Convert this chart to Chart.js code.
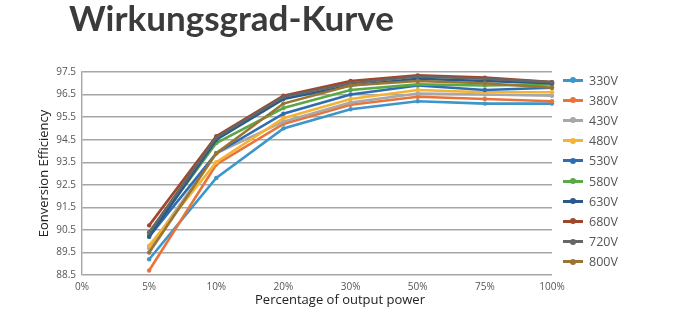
<!DOCTYPE html>
<html>
<head>
<meta charset="utf-8">
<script src="https://cdn.jsdelivr.net/npm/chart.js@4"></script>
<style>
    html, body { margin: 0; padding: 0; background: #fff; }
    #wrap { position: relative; width: 680px; height: 328px; overflow: hidden; }
    #title {
        position: absolute; left: 69px; top: -4px;
        font: 700 35px 'Lato', sans-serif; color: #3b3b3b;
    }
    #xTitle {
        position: absolute; left: 0; width: 680px; top: 290px; text-align: center;
        font: 13px 'Open Sans', sans-serif; color: #222;
    }
    #legend { position: absolute; left: 563px; top: 70px; }
    .item { height: 20.2px; display: flex; align-items: center; font: 12.5px 'Open Sans', sans-serif; color: #555; }
    .swatch { position: relative; width: 20px; height: 3px; margin-right: 6px; }
    .swatch i { position: absolute; left: 7px; top: -1.5px; width: 6px; height: 6px; border-radius: 50%; }
</style>
</head>
<body>
<div id="wrap">
    <div id="title">Wirkungsgrad-Kurve</div>
    <canvas id="efficiencyChart" width="680" height="328"></canvas>
    <div id="xTitle">Percentage of output power</div>
    <div id="legend"></div>
</div>
<script>
// load levels on the x axis (0% has no measurement)
const loadLevels = ['0%', '5%', '10%', '20%', '30%', '50%', '75%', '100%'];
const yTicks = [88.5, 89.5, 90.5, 91.5, 92.5, 93.5, 94.5, 95.5, 96.5, 97.5];

const voltages = ['330V', '380V', '430V', '480V', '530V', '580V', '630V', '680V', '720V', '800V'];
const colors = ['#3d96c9', '#e8743b', '#a8a8a8', '#f5b335', '#2f6db3', '#5aa846', '#285a8c', '#a0462a', '#666666', '#9a7433'];

// efficiency in % at 5, 10, 20, 30, 50, 75, 100 % load
const eff330 = [89.2, 92.8, 95.0, 95.85, 96.2, 96.1, 96.1];
const eff380 = [88.7, 93.4, 95.2, 96.05, 96.4, 96.3, 96.2];
const eff430 = [89.7, 93.9, 95.3, 96.15, 96.55, 96.5, 96.45];
const eff480 = [89.8, 93.5, 95.45, 96.3, 96.7, 96.6, 96.6];
const eff530 = [90.2, 93.9, 95.65, 96.5, 96.9, 96.7, 96.8];
const eff580 = [90.3, 94.35, 95.9, 96.7, 96.95, 96.9, 96.95];
const eff630 = [90.2, 94.5, 96.3, 96.9, 97.2, 97.1, 97.0];
const eff680 = [90.7, 94.65, 96.45, 97.1, 97.35, 97.25, 97.05];
const eff720 = [90.4, 94.6, 96.4, 97.0, 97.3, 97.2, 97.05];
const eff800 = [89.5, 93.9, 96.1, 96.9, 97.1, 97.0, 96.8];

const series = [eff330, eff380, eff430, eff480, eff530, eff580, eff630, eff680, eff720, eff800];

const datasets = series.map((vals, i) => ({
    label: voltages[i],
    data: [null, ...vals],
    borderColor: colors[i],
    backgroundColor: colors[i],
    borderWidth: 2.6,
    pointRadius: 2.2,
    pointBorderWidth: 0,
    tension: 0,
    order: series.length - i   // later voltages painted on top
}));

new Chart(document.getElementById('efficiencyChart'), {
    type: 'line',
    data: { labels: loadLevels, datasets: datasets },
    options: {
        responsive: false,
        animation: false,
        layout: { padding: { left: 0, top: 72, right: 128, bottom: 0 } },
        plugins: { legend: { display: false }, tooltip: { enabled: false } },
        scales: {
            x: {
                offset: false,
                grid: { display: false, drawTicks: false },
                border: { display: false },
                ticks: { color: '#555', font: { size: 10, family: 'Open Sans' }, padding: 6, maxRotation: 0 },
                afterFit: s => { s.height = 53; }
            },
            y: {
                min: yTicks[0],
                max: yTicks[yTicks.length - 1],
                afterBuildTicks: s => { s.ticks = yTicks.map(v => ({ value: v })); },
                grid: { color: '#a6a6a6', lineWidth: 1.4, drawTicks: false },
                border: { display: true, color: '#a6a6a6', width: 1.4 },
                ticks: { color: '#555', font: { size: 10, family: 'Open Sans' }, padding: 6, callback: v => v.toFixed(1) },
                title: {
                    display: true, text: 'Eonversion Efficiency', color: '#222',
                    font: { size: 13, family: 'Open Sans' }, padding: { top: 36, bottom: 0 }
                },
                afterFit: s => { s.width = 82; }
            }
        }
    }
});

// legend column on the right
const legend = document.getElementById('legend');
voltages.forEach((v, i) => {
    const row = document.createElement('div');
    row.className = 'item';
    row.innerHTML = `<span class="swatch" style="background:${colors[i]}"><i style="background:${colors[i]}"></i></span>${v}`;
    legend.appendChild(row);
});
</script>
</body>
</html>
